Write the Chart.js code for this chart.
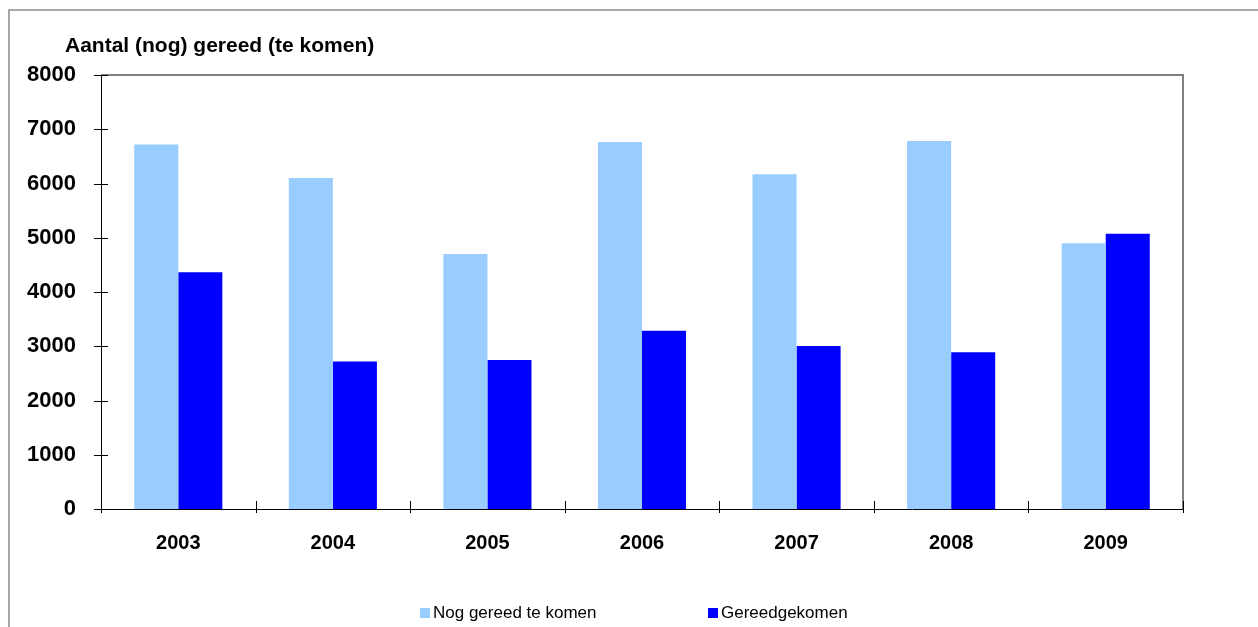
<!DOCTYPE html>
<html>
<head>
<meta charset="utf-8">
<script src="https://cdn.jsdelivr.net/npm/chart.js@4"></script>
<style>
  html, body { margin: 0; padding: 0; background: #ffffff; }
  #wrap { position: relative; width: 1258px; height: 627px; }
</style>
</head>
<body>
<div id="wrap"><canvas id="gereedChart" width="1258" height="627"></canvas></div>
<script>
// Data
const years = ['2003', '2004', '2005', '2006', '2007', '2008', '2009'];
const nogGereed = [6720, 6100, 4700, 6765, 6170, 6785, 4900];
const gereedGekomen = [4365, 2720, 2745, 3285, 3005, 2890, 5075];
const yTicks = [0, 1000, 2000, 3000, 4000, 5000, 6000, 7000, 8000];
const yTitle = 'Aantal (nog) gereed (te komen)';
const seriesNames = ['Nog gereed te komen', 'Gereedgekomen'];

const fontFamily = '"Liberation Sans", Arial, sans-serif';

// frame, crossing tick marks, title and legend
const decorPlugin = {
  id: 'decor',
  beforeDraw(chart) {
    const ctx = chart.ctx;
    ctx.save();
    ctx.fillStyle = '#ffffff';
    ctx.fillRect(0, 0, chart.width, chart.height);
    // outer frame (top + left)
    ctx.strokeStyle = '#8c8c8c';
    ctx.lineWidth = 1.5;
    ctx.beginPath();
    ctx.moveTo(9, chart.height);
    ctx.lineTo(9, 10);
    ctx.lineTo(chart.width, 10);
    ctx.stroke();
    ctx.restore();
  },
  afterDraw(chart) {
    const ctx = chart.ctx;
    const area = chart.chartArea;
    const x = chart.scales.x;
    const y = chart.scales.y;
    ctx.save();
    // plot area top + right border
    ctx.strokeStyle = '#808080';
    ctx.lineWidth = 2;
    ctx.beginPath();
    ctx.moveTo(area.left, area.top);
    ctx.lineTo(area.right, area.top);
    ctx.lineTo(area.right, area.bottom);
    ctx.stroke();

    // axes
    ctx.strokeStyle = '#000000';
    ctx.lineWidth = 1;
    ctx.beginPath();
    ctx.moveTo(area.left + 0.5, area.top);
    ctx.lineTo(area.left + 0.5, area.bottom + 0.5);
    ctx.lineTo(area.right, area.bottom + 0.5);
    ctx.stroke();

    // y ticks crossing the axis
    ctx.beginPath();
    yTicks.forEach(v => {
      const py = Math.round(y.getPixelForValue(v)) + 0.5;
      ctx.moveTo(area.left - 7, py);
      ctx.lineTo(area.left + 7, py);
    });
    // x ticks on category boundaries
    const step = (x.right - x.left) / years.length;
    for (let i = 0; i <= years.length; i++) {
      const px = Math.round(x.left + i * step) + 0.5;
      ctx.moveTo(px, area.bottom - 8);
      ctx.lineTo(px, area.bottom + 4);
    }
    ctx.stroke();

    // title
    ctx.fillStyle = '#000000';
    ctx.font = 'bold 21px ' + fontFamily;
    ctx.textAlign = 'left';
    ctx.textBaseline = 'alphabetic';
    ctx.fillText(yTitle, 65, 52);

    // legend
    const legendX = [420, 708];
    ctx.font = '17px ' + fontFamily;
    ctx.textBaseline = 'middle';
    chart.data.datasets.forEach((ds, i) => {
      ctx.fillStyle = ds.backgroundColor;
      ctx.fillRect(legendX[i], 608, 10, 10);
      ctx.fillStyle = '#000000';
      ctx.fillText(ds.label, legendX[i] + 13, 613);
    });
    ctx.restore();
  }
};

function createChart() {
  const ctx = document.getElementById('gereedChart').getContext('2d');

  const chart = new Chart(ctx, {
    type: 'bar',
    data: {
      labels: years,
      datasets: [{
        label: seriesNames[0],
        data: nogGereed,
        backgroundColor: '#99ccff',
        borderWidth: 0
      }, {
        label: seriesNames[1],
        data: gereedGekomen,
        backgroundColor: '#0000ff',
        borderWidth: 0
      }]
    },
    options: {
      responsive: false,
      animation: false,
      layout: {
        padding: { left: 0, top: 75, right: 75, bottom: 0 }
      },
      datasets: {
        bar: {
          categoryPercentage: 0.57,
          barPercentage: 1
        }
      },
      scales: {
        x: {
          grid: { display: false, drawTicks: false },
          border: { display: false },
          ticks: {
            color: '#000000',
            padding: 22,
            maxRotation: 0,
            font: { family: fontFamily, size: 20, weight: 'bold' }
          },
          afterFit: function(scale) {
            scale.height = 118;
          }
        },
        y: {
          min: 0,
          max: 8000,
          grid: { display: false, drawTicks: false },
          border: { display: false },
          ticks: {
            stepSize: 1000,
            color: '#000000',
            padding: 25,
            font: { family: fontFamily, size: 22, weight: 'bold' },
            callback: function(value) {
              return String(value);
            }
          },
          afterFit: function(scale) {
            scale.width = 101;
          }
        }
      },
      plugins: {
        legend: { display: false },
        tooltip: { enabled: false }
      }
    },
    plugins: [decorPlugin]
  });
  return chart;
}

createChart();
</script>
</body>
</html>
